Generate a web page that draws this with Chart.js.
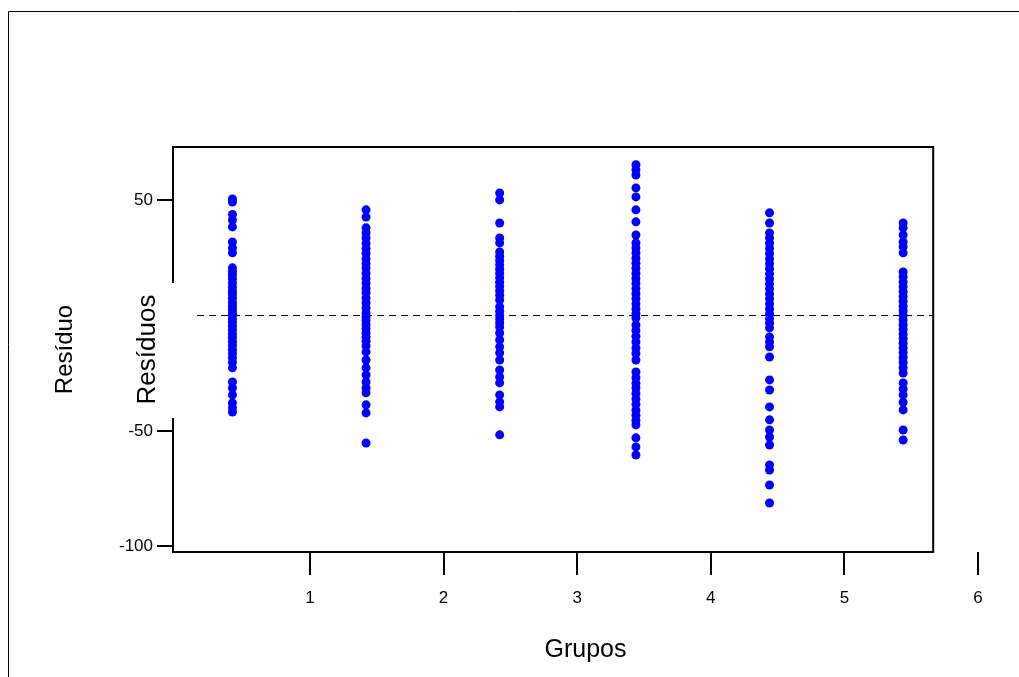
<!DOCTYPE html>
<html>
<head>
<meta charset="utf-8">
<script src="https://cdn.jsdelivr.net/npm/chart.js@4.4.1/dist/chart.umd.min.js"></script>
<style>
  html, body { margin: 0; padding: 0; background: #fff; }
  #wrap { width: 1019px; height: 677px; position: relative; }
</style>
</head>
<body>
<div id="wrap"><canvas id="c" width="1019" height="677"></canvas></div>
<script>
// ---- data ----
const groupX = [0.42, 1.42, 2.42, 3.44, 4.44, 5.44];
const group1 = [50.4, 49.1, 43.7, 41.3, 38.3, 31.8, 29.2, 27.1, 20.6, 19, 17.5, 15.8, 14, 12.2, 10.5, 9, 7.4, 5.6, 4, 2.5, 1, 0, -1.5, -3, -4.6, -6.2, -8, -9.5, -11.3, -13, -14.8, -16.5, -18.4, -20.3, -22.7, -28.8, -31.4, -34.4, -37.9, -40, -41.8];
const group2 = [45.7, 42.6, 37.9, 35.7, 33.5, 31.2, 29, 26.8, 24.5, 22.4, 20.5, 18.2, 16, 14, 11.7, 9.8, 7.5, 5.4, 3.2, 1.1, -0.5, -2.2, -4, -5.8, -7.6, -9.4, -11.2, -13.2, -15.8, -19.3, -22.7, -25.8, -28.8, -31.4, -33.5, -38.7, -42.2, -55.2];
const group3 = [53, 50, 40, 33.5, 31.4, 27.5, 25.6, 23.8, 21.9, 20, 18.2, 16.3, 14.4, 12.5, 10.6, 8.7, 6.7, 3.7, 1.8, 0, -1.6, -3.2, -5, -7.6, -10.6, -13.6, -16.2, -19.3, -23.6, -26.6, -29.2, -34.4, -37.4, -39.6, -51.7];
const group4 = [65.2, 63, 60.8, 55.2, 51.3, 45.7, 40.5, 34.8, 31.4, 29.2, 27, 24.8, 22.6, 20.4, 18.2, 16, 13.8, 11.6, 9.4, 7.2, 5, 2.8, 0.8, -1.1, -4.1, -6.5, -9, -11.5, -14.1, -16.5, -19.3, -24.5, -27, -29.4, -31.4, -33.8, -36.2, -38.5, -41, -43.2, -45.5, -47.4, -53, -56.9, -60.4];
const group5 = [44.4, 40, 35.7, 33.5, 31.3, 29, 26.8, 24.5, 22.4, 20.2, 18, 15.8, 13.6, 11.5, 9.3, 7.2, 5, 2.8, 0.7, -1.4, -3.4, -5.4, -9.3, -11.5, -13.6, -18, -27.9, -32.3, -39.6, -45.2, -49.6, -52.6, -56.1, -64.7, -66.9, -73.4, -81.2];
const group6 = [40, 37.9, 34.8, 31.8, 29.7, 27.1, 18.8, 16.7, 14.5, 12.4, 10.3, 8.2, 6.1, 4, 2, 0, -2, -4, -6, -8, -10, -12, -14, -16, -18.2, -20.4, -22.6, -24.9, -29.2, -31.8, -34.4, -37.6, -40.9, -49.6, -53.9];
const groups = [group1, group2, group3, group4, group5, group6];
const xTickValues = [1, 2, 3, 4, 5, 6];
const yTickValues = [-100, -50, 0, 50];
const referenceLine = 0;
const xTitle = "Grupos";
const yTitleOuter = "Resíduo";
const yTitleInner = "Resíduos";

// ---- layout / style constants ----
const X_MIN = -0.025, X_MAX = 6.15, BOX_RIGHT = 5.665;
const Y_MIN = -102.4, Y_MAX = 72.9;
const FONT = "'Liberation Sans', Arial, sans-serif";

const points = [];
groups.forEach((g, i) => g.forEach(v => points.push({ x: groupX[i], y: v })));

const framePlugin = {
  id: 'framePlugin',
  beforeDraw(chart) {
    const ctx = chart.ctx;
    ctx.save();
    ctx.fillStyle = '#fff';
    ctx.fillRect(0, 0, chart.width, chart.height);
    ctx.strokeStyle = '#000';
    ctx.lineWidth = 1;
    ctx.beginPath();
    ctx.moveTo(8.5, chart.height);
    ctx.lineTo(8.5, 11.5);
    ctx.lineTo(chart.width, 11.5);
    ctx.stroke();
    ctx.restore();
  },
  beforeDatasetsDraw(chart) {
    const ctx = chart.ctx, a = chart.chartArea;
    const xs = chart.scales.x, ys = chart.scales.y;
    const right = xs.getPixelForValue(BOX_RIGHT);
    const y0 = ys.getPixelForValue(referenceLine);
    ctx.save();
    ctx.strokeStyle = '#000';
    ctx.lineWidth = 1;
    ctx.setLineDash([7, 5]);
    ctx.beginPath();
    ctx.moveTo(a.left, Math.round(y0) + 0.5);
    ctx.lineTo(right, Math.round(y0) + 0.5);
    ctx.stroke();
    ctx.setLineDash([]);
    ctx.lineWidth = 2;
    ctx.strokeRect(a.left, a.top, right - a.left, a.bottom - a.top);
    ctx.restore();
  },
  afterDraw(chart) {
    const ctx = chart.ctx, a = chart.chartArea;
    const yMid = (a.top + a.bottom) / 2;
    ctx.save();
    ctx.fillStyle = '#fff';
    ctx.fillRect(133, 283, 59, 135);
    ctx.fillStyle = '#000';
    ctx.textAlign = 'center';
    ctx.textBaseline = 'middle';
    ctx.translate(148, yMid);
    ctx.rotate(-Math.PI / 2);
    ctx.font = '26px ' + FONT;
    ctx.fillText(yTitleInner, 0, 0);
    ctx.restore();
    ctx.save();
    ctx.fillStyle = '#000';
    ctx.textAlign = 'center';
    ctx.textBaseline = 'middle';
    ctx.translate(65, yMid);
    ctx.rotate(-Math.PI / 2);
    ctx.font = '24px ' + FONT;
    ctx.fillText(yTitleOuter, 0, 0);
    ctx.restore();
  }
};

new Chart(document.getElementById('c'), {
  type: 'scatter',
  data: {
    datasets: [{
      data: points,
      backgroundColor: '#0000ff',
      borderWidth: 0,
      pointRadius: 4.5,
      pointHoverRadius: 4.5
    }]
  },
  options: {
    responsive: false,
    animation: false,
    events: [],
    layout: { padding: { left: 0, top: 147, right: 21, bottom: 0 } },
    plugins: { legend: { display: false }, tooltip: { enabled: false } },
    scales: {
      x: {
        type: 'linear',
        min: X_MIN, max: X_MAX,
        afterBuildTicks: s => { s.ticks = xTickValues.map(v => ({ value: v })); },
        afterFit: s => { s.height = 125; },
        border: { display: false },
        grid: { drawOnChartArea: false, drawTicks: true, tickLength: 23, color: '#000', lineWidth: 2 },
        ticks: { color: '#000', font: { family: FONT, size: 17 }, padding: 13, maxRotation: 0, callback: v => String(v) },
        title: { display: true, text: xTitle, color: '#000', font: { family: FONT, size: 25 }, padding: { top: 0, bottom: 12 } }
      },
      y: {
        type: 'linear',
        min: Y_MIN, max: Y_MAX,
        afterBuildTicks: s => { s.ticks = yTickValues.map(v => ({ value: v })); },
        afterFit: s => { s.width = 173; },
        border: { display: false },
        grid: { drawOnChartArea: false, drawTicks: true, tickLength: 16, color: '#000', lineWidth: 2 },
        ticks: { color: '#000', font: { family: FONT, size: 17 }, padding: 4, callback: v => String(v) }
      }
    }
  },
  plugins: [framePlugin]
});
</script>
</body>
</html>
